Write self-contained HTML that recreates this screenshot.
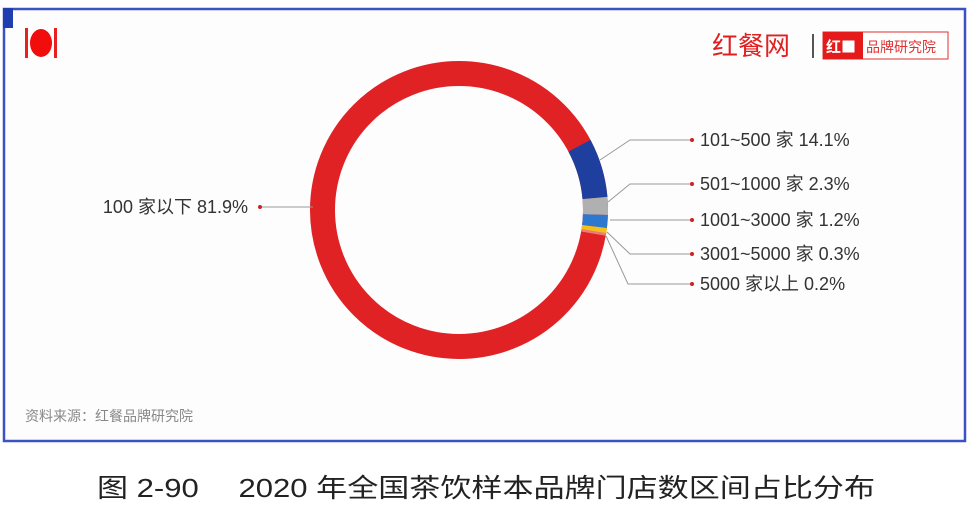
<!DOCTYPE html>
<html><head><meta charset="utf-8"><style>
body{margin:0;width:972px;height:524px;background:#fff;overflow:hidden;font-family:"Liberation Sans","Noto Sans CJK SC",sans-serif;}
</style></head><body>
<svg width="972" height="524" xmlns="http://www.w3.org/2000/svg" style="position:absolute;left:0;top:0">
<rect x="0" y="0" width="972" height="524" fill="#fff"/>
<rect x="4" y="9" width="961" height="432" fill="#fdfdfd" stroke="#3a52c4" stroke-width="2.5"/>
<rect x="3" y="8" width="10" height="20" fill="#1f3fb0"/>
<rect x="26" y="28" width="30" height="30" fill="#fff"/>
<ellipse cx="41" cy="43" rx="11" ry="14" fill="#f20d0d"/>
<rect x="25" y="28" width="3" height="30" fill="#e82020"/><rect x="54" y="28" width="3" height="30" fill="#e82020"/>
<text x="712" y="55" font-size="26" fill="#e02020" font-family="Noto Sans CJK SC,sans-serif">红餐网</text>
<rect x="812" y="34" width="2" height="24" fill="#555"/>
<rect x="823" y="32" width="125" height="27" fill="#fff" stroke="#e03030" stroke-width="1"/>
<rect x="823" y="32" width="40" height="27" fill="#e51b1b"/>
<text x="826" y="52" font-size="15" fill="#fff" font-family="Noto Sans CJK SC,sans-serif" font-weight="bold">红■</text>
<text x="866" y="52" font-size="14" fill="#e03030" font-family="Noto Sans CJK SC,sans-serif">品牌研究院</text>
<g transform="rotate(-90 459 210)" fill="none" stroke-width="25">
<circle cx="459" cy="210" r="136.5" stroke="#e02225"/>
<circle cx="459" cy="210" r="136.5" stroke="#1f3f9e" stroke-dasharray="54.8 1000" stroke-dashoffset="-147.5"/>
<circle cx="459" cy="210" r="136.5" stroke="#b0b0b0" stroke-dasharray="16.7 1000" stroke-dashoffset="-202.3"/>
<circle cx="459" cy="210" r="136.5" stroke="#2f78d0" stroke-dasharray="11.9 1000" stroke-dashoffset="-219"/>
<circle cx="459" cy="210" r="136.5" stroke="#f2c21a" stroke-dasharray="4.8 1000" stroke-dashoffset="-230.9"/>
<circle cx="459" cy="210" r="136.5" stroke="#f07a7a" stroke-dasharray="2.4 1000" stroke-dashoffset="-235.7"/>
</g>
<g stroke="#999" stroke-width="1" fill="none">
<polyline points="600,160 630,140 690,140"/>
<polyline points="608,202 630,184 690,184"/>
<polyline points="610,220 690,220"/>
<polyline points="607,232 630,254 690,254"/>
<polyline points="606,236 628,284 690,284"/>
<polyline points="262,207 313,207"/>
</g>
<g fill="#d02020">
<circle cx="692" cy="140" r="2"/><circle cx="692" cy="184" r="2"/><circle cx="692" cy="220" r="2"/><circle cx="692" cy="254" r="2"/><circle cx="692" cy="284" r="2"/><circle cx="260" cy="207" r="2"/>
</g>
<g font-size="18" fill="#333" font-family="Liberation Sans,Noto Sans CJK SC,sans-serif">
<text x="700" y="146">101~500 家 14.1%</text>
<text x="700" y="190">501~1000 家 2.3%</text>
<text x="700" y="226">1001~3000 家 1.2%</text>
<text x="700" y="260">3001~5000 家 0.3%</text>
<text x="700" y="290">5000 家以上 0.2%</text>
<text x="248" y="213" text-anchor="end">100 家以下 81.9%</text>
</g>
<text x="25" y="421" font-size="14" fill="#888" font-family="Noto Sans CJK SC,sans-serif">资料来源：红餐品牌研究院</text>
<text x="486" y="497" font-size="26" fill="#222" text-anchor="middle" font-family="Liberation Sans,Noto Sans CJK SC,sans-serif" textLength="778" lengthAdjust="spacingAndGlyphs">图 2-90　  2020 年全国茶饮样本品牌门店数区间占比分布</text>
</svg>
</body></html>
